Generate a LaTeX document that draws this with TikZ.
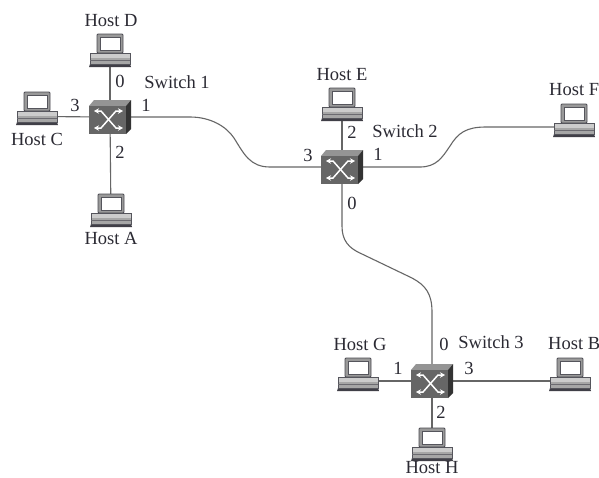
\documentclass[tikz,border=0pt]{standalone}
\usepackage{fontspec}
\setmainfont{Liberation Serif}
\usetikzlibrary{arrows.meta}
\definecolor{ink}{HTML}{2B2A33}
\definecolor{wire}{HTML}{666666}
\tikzset{
  x=1pt,y=-1pt,
  lab/.style={font=\fontsize{18.5}{20}\selectfont,text=ink,inner sep=0pt},
  hostbox/.style={minimum width=42pt,minimum height=17pt,inner sep=0pt,outer sep=0pt},
  switchbox/.style={minimum width=42pt,minimum height=34pt,inner sep=0pt,outer sep=0pt},
  link/.style={draw=wire,line width=1.1pt},
  xarrow/.style={draw=white,line width=1.5pt,{Stealth[length=5pt,width=5.5pt]}-{Stealth[length=5pt,width=5.5pt]}},
}
\newcommand{\hosticon}[1]{%
  \begin{scope}[shift={(#1.south)}]
    \fill[ink!90] (-21,0) -- (-20,-3) -- (20,-3) -- (21,0) -- cycle;
    \filldraw[draw=ink!80,fill=black!35,line width=.8pt] (-20,-14) rectangle (20,-3);
    \fill[black!20] (-19.5,-13.5) rectangle (19.5,-9);
    \draw[ink!70,line width=.7pt] (-20,-7) -- (20,-7);
    \filldraw[draw=ink!85,fill=black!40,line width=.8pt,rounded corners=1pt] (-13,-14) rectangle (13,-33);
    \fill[white] (-10,-17) rectangle (10,-30);
    \draw[ink!80,line width=.6pt] (-10,-17) rectangle (10,-30);
  \end{scope}}
\newcommand{\switchicon}[1]{%
  \begin{scope}[shift={(#1.center)}]
    \fill[black!42] (-21,-11) -- (-16,-17) -- (21,-17) -- (16,-11) -- cycle;
    \fill[black!80] (16,-11) -- (21,-17) -- (21,12) -- (16,17) -- cycle;
    \fill[black!60] (-21,-11) rectangle (16,17);
    \draw[xarrow] (-16,-6) -- (-9,-6) -- (6,11) -- (13,11);
    \draw[xarrow] (-16,11) -- (-9,11) -- (6,-6) -- (13,-6);
  \end{scope}}
\begin{document}
\begin{tikzpicture}
\useasboundingbox (0,0) rectangle (599,477);
\fill[white] (0,0) rectangle (599,477);
% anchors
\node[hostbox] (hostD) at (110,58.5) {};
\node[hostbox] (hostC) at (37,116.5) {};
\node[hostbox] (hostA) at (111,218.5) {};
\node[hostbox] (hostE) at (342,112.5) {};
\node[hostbox] (hostF) at (574,128.5) {};
\node[hostbox] (hostG) at (358,382.5) {};
\node[hostbox] (hostB) at (570,382.5) {};
\node[hostbox] (hostH) at (432,452.5) {};
\node[switchbox] (sw1) at (110,117) {};
\node[switchbox] (sw2) at (342,167) {};
\node[switchbox] (sw3) at (432,381) {};
% connectors
\draw[link] (hostD.south) -- (sw1.center);
\draw[link] (hostC.center) -- (sw1.center);
\draw[link] (sw1.center) -- (hostA.center);
\draw[link] (hostE.south) -- (sw2.center);
\draw[link] (hostG.center |- sw3.center) -- (sw3.center);
\draw[link] (sw3.center) -- (hostB.center |- sw3.center);
\draw[link] (sw3.center) -- (hostH.center);
\draw[link] (sw1.center) -- (190,117) .. controls (210,117) and (226,126) .. (234,138) .. controls (244,154) and (250,167) .. (270,167) -- (sw2.center);
\draw[link] (sw2.center) -- (420,167) .. controls (436,167) and (442,158) .. (450,146) .. controls (458,133) and (466,127) .. (486,127) -- (hostF.center |- 0,127);
\draw[link] (sw2.center) -- (342,226) .. controls (342,240) and (348,248) .. (362,254) -- (412,278) .. controls (425,285) and (432,293) .. (432,312) -- (sw3.center);
% icons
\hosticon{hostD}\hosticon{hostC}\hosticon{hostA}\hosticon{hostE}
\hosticon{hostF}\hosticon{hostG}\hosticon{hostB}\hosticon{hostH}
\switchicon{sw1}\switchicon{sw2}\switchicon{sw3}
% labels
\node[lab] (tD) at (111,21) {Host D};
\node[lab] (tC) at (37,139) {Host C};
\node[lab] (tA) at (111,238) {Host A};
\node[lab] (tE) at (342,75) {Host E};
\node[lab,anchor=west] (tF) at (549,90) {Host F};
\node[lab] (tG) at (360,344) {Host G};
\node[lab,anchor=west] (tB) at (548,344) {Host B};
\node[lab] (tH) at (432,468) {Host H};
\node[lab] (tS1) at (177,82) {Switch 1};
\node[lab] (tS2) at (405,131) {Switch 2};
\node[lab] (tS3) at (491,342) {Switch 3};
\node[lab] (p10) at (120,81) {0};
\node[lab] (p13) at (75,105) {3};
\node[lab] (p11) at (146,105) {1};
\node[lab] (p12) at (120,152) {2};
\node[lab] (p22) at (352,132) {2};
\node[lab] (p23) at (308,155) {3};
\node[lab] (p21) at (378,154) {1};
\node[lab] (p20) at (352,203) {0};
\node[lab] (p30) at (444,344) {0};
\node[lab] (p31) at (398,368) {1};
\node[lab] (p33) at (469,368) {3};
\node[lab] (p32) at (441,412) {2};
\end{tikzpicture}
\end{document}
